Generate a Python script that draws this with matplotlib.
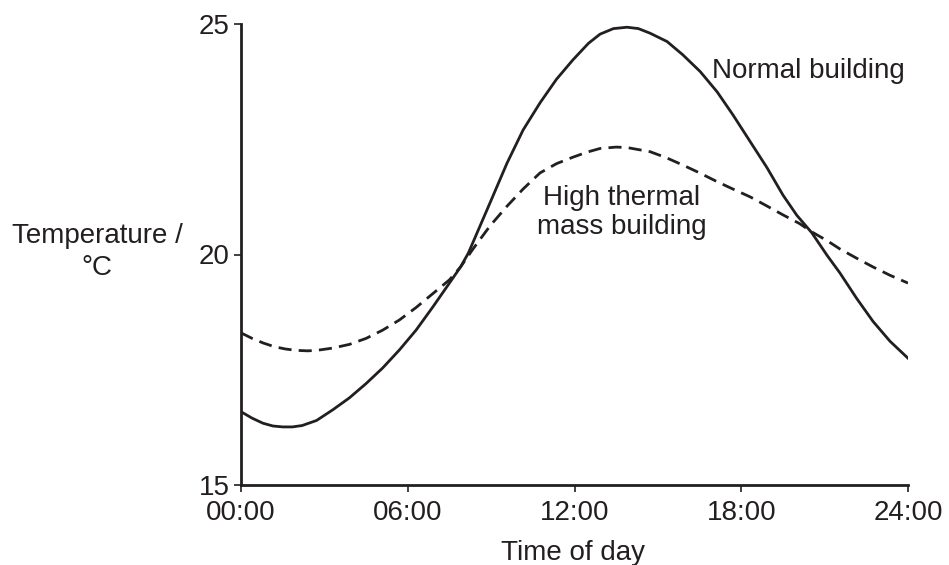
import numpy as np
import matplotlib as mpl
mpl.use('Agg')
import matplotlib.pyplot as plt

plt.rcParams['font.family'] = ['Liberation Sans', 'DejaVu Sans']

# hours after midnight, temperature in degC
normal_h = [0, 0.4, 0.79, 1.15, 1.5, 1.85, 2.2, 2.72, 3.3, 3.9, 4.5, 5.1, 5.7, 6.3,
            6.9, 7.5, 7.9, 8.18, 8.96, 9.57, 10.15, 10.76, 11.35, 11.94, 12.5,
            12.92, 13.4, 13.89, 14.3, 14.72, 15.33, 15.9, 16.52, 17.13, 17.7,
            18.32, 18.93, 19.5, 20.0, 20.54, 21.09, 21.55, 22.15, 22.74, 23.35, 24]
normal_t = [16.59, 16.45, 16.34, 16.28, 16.26, 16.26, 16.29, 16.40, 16.63, 16.89,
            17.2, 17.54, 17.93, 18.36, 18.86, 19.38, 19.73, 20.03, 21.12, 21.98,
            22.7, 23.29, 23.8, 24.22, 24.58, 24.78, 24.9, 24.93, 24.9, 24.8, 24.62,
            24.33, 23.97, 23.53, 23.03, 22.45, 21.88, 21.29, 20.85, 20.47, 19.98,
            19.6, 19.05, 18.55, 18.12, 17.75]

thermal_h = [0, 0.4, 0.8, 1.2, 1.6, 2.0, 2.4, 2.72, 3.3, 3.9, 4.5, 5.1, 5.7, 6.3,
             6.9, 7.5, 7.9, 8.36, 8.96, 9.56, 10.15, 10.76, 11.35, 11.94, 12.45,
             12.92, 13.5, 13.89, 14.72, 15.3, 15.9, 16.5, 17.13, 17.7, 18.32, 18.9,
             19.5, 20.1, 20.54, 21.09, 21.55, 22.15, 22.74, 23.35, 24]
thermal_t = [18.30, 18.18, 18.08, 18.0, 17.95, 17.92, 17.91, 17.92, 17.97, 18.05,
             18.18, 18.36, 18.58, 18.85, 19.15, 19.45, 19.73, 20.13, 20.62, 21.04,
             21.42, 21.77, 21.97, 22.11, 22.22, 22.3, 22.33, 22.32, 22.23, 22.1,
             21.94, 21.77, 21.58, 21.42, 21.25, 21.06, 20.86, 20.67, 20.49, 20.3,
             20.12, 19.92, 19.73, 19.55, 19.38]

xticks = [0, 6, 12, 18, 24]
xlabels = ['00:00', '06:00', '12:00', '18:00', '24:00']
yticks = [15, 20, 25]

ink = '#231f20'
fs = 20

fig = plt.figure(figsize=(9.49, 5.65), dpi=100)
ax = fig.add_axes([241 / 949, 80 / 565, 667 / 949, 461 / 565])

ax.plot(normal_h, normal_t, color=ink, lw=2.0, solid_joinstyle='round')
ax.plot(thermal_h, thermal_t, color=ink, lw=2.0, linestyle=(0, (4.7, 2.6)))

ax.set_xlim(0, 24)
ax.set_ylim(15, 25)
ax.set_xticks(xticks)
ax.set_xticklabels(xlabels)
ax.set_yticks(yticks)

for s in ['top', 'right']:
    ax.spines[s].set_visible(False)
for s in ['left', 'bottom']:
    ax.spines[s].set_linewidth(2.0)
    ax.spines[s].set_color(ink)

ax.tick_params(direction='out', length=5, width=1.2, color=ink,
               labelsize=fs, labelcolor=ink, pad=3)
ax.tick_params(axis='x', pad=6)

ax.text(16.95, 23.83, 'Normal building', fontsize=fs, color=ink, ha='left', va='baseline')
ax.text(13.71, 21.07, 'High thermal', fontsize=fs, color=ink, ha='center', va='baseline')
ax.text(13.71, 20.45, 'mass building', fontsize=fs, color=ink, ha='center', va='baseline')

fig.text(97 / 949, 1 - 243 / 565, 'Temperature /', fontsize=fs, color=ink,
         ha='center', va='baseline')
fig.text(97 / 949, 1 - 275 / 565, '\u00b0C', fontsize=fs, color=ink,
         ha='center', va='baseline')
fig.text(573 / 949, 1 - 560 / 565, 'Time of day', fontsize=fs, color=ink,
         ha='center', va='baseline')

plt.savefig('out.png', dpi=100)
